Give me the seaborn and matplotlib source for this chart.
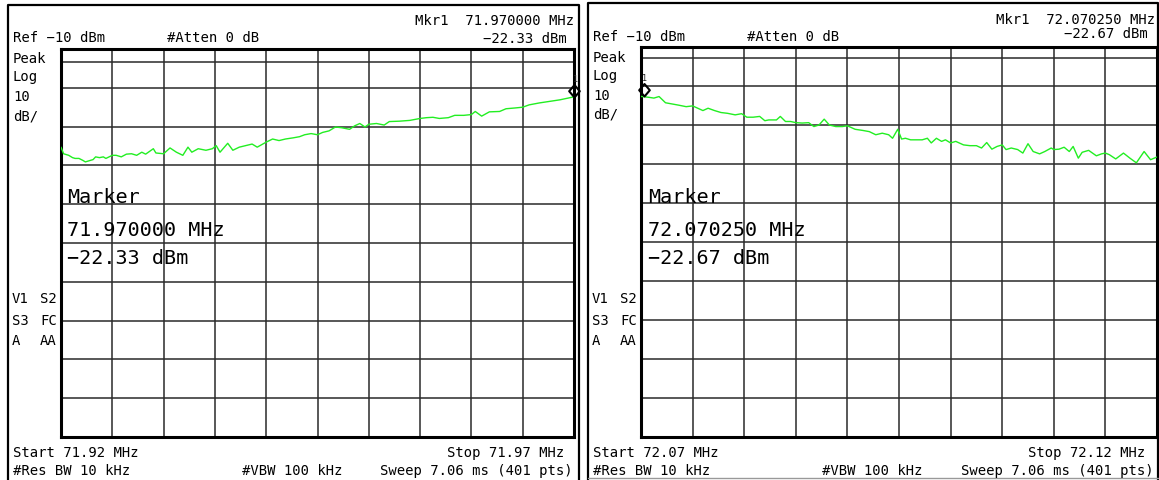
import numpy as np
import matplotlib
matplotlib.use("Agg")
import matplotlib.pyplot as plt
from matplotlib.path import Path
from matplotlib.markers import MarkerStyle
import seaborn as sns

# ---- analyzer settings -------------------------------------------------
ref_level = -10.0          # dBm, top graticule line
db_per_div = 10.0
n_points = 401

left_start, left_stop = 71.92, 71.97       # MHz
right_start, right_stop = 72.07, 72.12     # MHz

left_marker_freq, left_marker_level = 71.970000, -22.33
right_marker_freq, right_marker_level = 72.070250, -22.67

left_display_line = -13.4
right_display_line = -12.9

# ---- trace samples (sweep point index, level in dBm) -------------------
left_pts = [0, 2, 6, 9, 11, 14, 17, 19, 22, 25, 27, 30, 33, 35, 40, 43, 47, 51,
            55, 59, 63, 66, 72, 74, 80, 85, 90, 95, 99, 102, 107, 113, 118, 121,
            124, 130, 134, 139, 144, 149, 153, 160, 165, 170, 175, 181, 186, 190,
            195, 200, 204, 209, 214, 219, 225, 229, 233, 237, 240, 246, 252, 256,
            264, 272, 280, 285, 290, 295, 302, 307, 314, 320, 323, 328, 334, 342,
            347, 354, 360, 365, 373, 381, 389, 400]
left_level = [-35.3, -37.0, -37.4, -38.0, -38.2, -38.2, -38.7, -39.1, -38.8, -38.5,
              -37.8, -38.0, -37.8, -38.2, -37.4, -37.4, -37.8, -37.1, -37.0, -37.4,
              -36.6, -37.1, -35.7, -36.8, -37.0, -35.5, -36.6, -37.4, -35.3, -36.6,
              -35.7, -36.1, -35.7, -34.9, -36.6, -34.3, -36.1, -35.3, -34.9, -34.5,
              -35.3, -34.0, -33.2, -33.6, -33.2, -32.9, -32.6, -32.1, -31.8, -32.1,
              -31.5, -31.1, -30.1, -30.3, -30.7, -29.8, -29.2, -30.1, -29.4, -29.2,
              -29.6, -28.7, -28.6, -28.4, -27.9, -27.7, -27.6, -27.9, -27.7, -27.1,
              -27.1, -26.9, -26.1, -27.3, -26.2, -26.1, -25.4, -25.2, -25.0, -24.4,
              -23.9, -23.5, -23.1, -22.33]

right_pts = [0, 6, 10, 14, 19, 24, 29, 35, 40, 44, 48, 52, 57, 62, 67, 73, 78, 82,
             87, 92, 96, 99, 105, 108, 112, 116, 120, 125, 130, 134, 138, 142, 146,
             151, 156, 160, 166, 172, 177, 182, 187, 192, 195, 199, 202, 205, 209,
             213, 218, 222, 225, 229, 233, 236, 240, 244, 250, 255, 260, 264, 268,
             272, 276, 280, 283, 287, 292, 296, 300, 304, 309, 313, 318, 320, 324,
             328, 332, 335, 339, 342, 347, 353, 357, 360, 363, 368, 374, 379, 384,
             390, 395, 400]
right_level = [-22.67, -22.9, -23.1, -22.7, -24.3, -24.6, -24.9, -25.3, -25.1, -25.7,
               -26.3, -25.7, -26.3, -26.8, -27.0, -27.4, -27.1, -28.0, -28.0, -27.8,
               -28.9, -28.7, -28.7, -27.8, -29.1, -29.1, -29.4, -29.5, -29.4, -30.4,
               -30.0, -28.5, -30.0, -30.4, -30.4, -30.2, -31.1, -31.4, -31.7, -32.5,
               -32.1, -32.5, -33.4, -31.1, -33.6, -33.4, -33.8, -33.8, -33.8, -33.4,
               -34.6, -33.4, -34.2, -33.8, -34.6, -34.2, -35.1, -35.3, -35.3, -35.9,
               -34.5, -36.2, -35.5, -35.1, -36.3, -35.9, -36.3, -37.2, -34.8, -36.8,
               -37.4, -36.8, -35.9, -36.3, -36.2, -35.7, -36.8, -35.5, -38.5, -37.0,
               -36.5, -37.9, -37.4, -37.2, -37.6, -38.7, -37.2, -38.5, -39.7, -36.8,
               -38.9, -38.2]

# ---- styling -----------------------------------------------------------
sns.set_theme(style="white")
plt.rcParams["font.family"] = ["DejaVu Sans Mono", "DejaVu Sans"]

W, H = 1159, 480
fig = plt.figure(figsize=(W / 100, H / 100), dpi=100)
fig.patch.set_facecolor("white")

TRACE = "#22ee22"
GRID = "#2a2a2a"


def px_rect(x0, y0, x1, y1):
    return [x0 / W, 1 - y1 / H, (x1 - x0) / W, (y1 - y0) / H]


def graticule(rect, start, stop, pts, level, mk_f, mk_l, disp_line):
    ax = fig.add_axes(rect)
    span = stop - start
    freq = start + np.asarray(pts, dtype=float) * span / (n_points - 1)
    ax.set_xlim(start, stop)
    ax.set_ylim(ref_level - 10 * db_per_div, ref_level)
    ax.set_xticks(np.linspace(start, stop, 11))
    ax.set_yticks(np.arange(ref_level - 10 * db_per_div, ref_level + 1, db_per_div))
    ax.grid(True, color=GRID, lw=1.1)
    ax.tick_params(length=0, labelbottom=False, labelleft=False)
    for s in ax.spines.values():
        s.set_visible(True)
        s.set_color("black")
        s.set_linewidth(2.2)
    ax.axhline(disp_line, color=GRID, lw=1.1)
    sns.lineplot(x=freq, y=np.asarray(level), ax=ax, color=TRACE, lw=1.0,
                 estimator=None, sort=False, zorder=3)
    diamond = Path([(0, 0), (0.85, 1), (0, 2), (-0.85, 1), (0, 0)],
                   [Path.MOVETO, Path.LINETO, Path.LINETO, Path.LINETO, Path.CLOSEPOLY])
    ax.plot([mk_f], [mk_l], marker=MarkerStyle(diamond), ms=18, mfc="none",
            mec="black", mew=1.5, ls="none", clip_on=False, zorder=5)
    ax.annotate("1", (mk_f, mk_l), xytext=(1, 13), textcoords="offset pixels",
                fontsize=6, ha="center", va="bottom", annotation_clip=False)
    return ax


graticule(px_rect(61, 49, 574, 437), left_start, left_stop, left_pts, left_level,
          left_marker_freq, left_marker_level, left_display_line)
graticule(px_rect(641, 47, 1157, 437), right_start, right_stop, right_pts, right_level,
          right_marker_freq, right_marker_level, right_display_line)

# ---- overlay in pixel units for frames and annotations ------------------
ov = fig.add_axes([0, 0, 1, 1])
ov.set_xlim(0, W)
ov.set_ylim(H, 0)
ov.axis("off")
ov.patch.set_alpha(0)

# panel frames
ov.plot([8, 8, 579, 579], [480, 5, 5, 480], color="black", lw=1.6)
ov.plot([588, 588, 1158, 1158], [480, 3, 3, 480], color="black", lw=1.6)
ov.plot([588, 1158], [478, 478], color="#999999", lw=1.0)

SMALL = 10
BIG = 14.5


def t(x, y, s, ha="left", size=SMALL):
    ov.text(x, y, s, ha=ha, va="baseline", fontsize=size, color="black")


def panel_text(x0, dy, start, stop, mk_f, mk_l, right_edge, big_x, hdr_y):
    t(x0, 42 + dy, "Ref \u221210 dBm")
    t(x0 + 154, 42 + dy, "#Atten 0 dB")
    t(right_edge, hdr_y[0], f"Mkr1  {mk_f:.6f} MHz", ha="right")
    t(right_edge - 7, hdr_y[1], f"{mk_l:.2f} dBm".replace("-", "\u2212"), ha="right")
    for yy, s in zip([63, 81, 101, 120], ["Peak", "Log", "10", "dB/"]):
        t(x0, yy + dy, s)
    for yy, a, b in zip([303, 325, 345], ["V1", "S3", "A"], ["S2", "FC", "AA"]):
        t(x0 - 1, yy, a)
        t(x0 + 44, yy, b, ha="right")
    t(big_x, 203, "Marker", size=BIG)
    t(big_x, 236, f"{mk_f:.6f} MHz", size=BIG)
    t(big_x, 264, f"{mk_l:.2f} dBm".replace("-", "\u2212"), size=BIG)
    t(x0, 457, f"Start {start:.2f} MHz")
    t(x0, 475, "#Res BW 10 kHz")
    t(x0 + 229, 475, "#VBW 100 kHz")
    t(right_edge - 10, 457, f"Stop {stop:.2f} MHz", ha="right")
    t(right_edge - 1, 475, "Sweep 7.06 ms (401 pts)", ha="right")


panel_text(13, 0, left_start, left_stop, left_marker_freq, left_marker_level,
           574, 67, (25, 43))
panel_text(593, -1, right_start, right_stop, right_marker_freq, right_marker_level,
           1155, 648, (24, 38))

fig.savefig("out.png", dpi=100, facecolor="white")
